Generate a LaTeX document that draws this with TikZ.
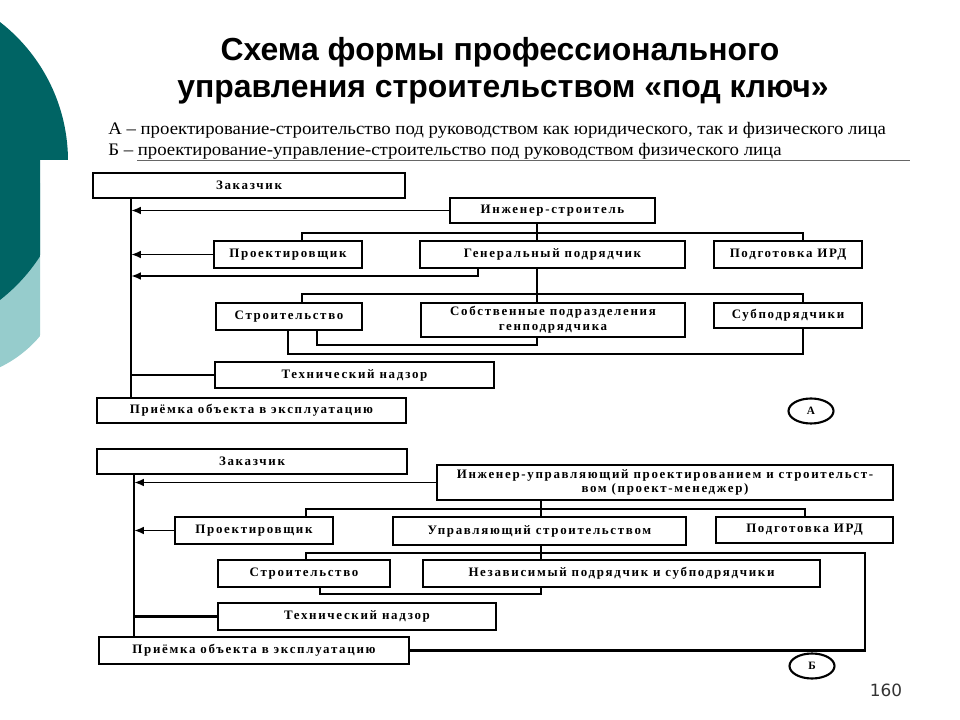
\documentclass[tikz,border=0pt]{standalone}
\usepackage{fontspec}
\setmainfont{Liberation Serif}
\newfontfamily\titlefont{Liberation Sans}
\newfontfamily\capfont[FakeStretch=1.07]{Liberation Serif}
\newfontfamily\boxfont[LetterSpace=13]{Liberation Serif}
\newfontfamily\numfont{DejaVu Sans}
\usetikzlibrary{arrows.meta, positioning, shapes.geometric}
\definecolor{darkteal}{RGB}{0,100,100}
\definecolor{lightteal}{RGB}{150,204,204}

\begin{document}
\begin{tikzpicture}[
    x=0.025cm, y=-0.025cm,
    blk/.style 2 args={draw, line width=1.8pt, inner sep=0pt, align=center,
        minimum width=#1*0.025cm, minimum height=#2*0.025cm,
        font=\boxfont\bfseries\fontsize{9.2}{10.5}\selectfont},
    lettercirc/.style={draw, ellipse, line width=1.5pt, inner sep=0pt,
        minimum width=45*0.025cm, minimum height=25*0.025cm,
        font=\boxfont\bfseries\fontsize{8}{10}\selectfont},
    link/.style={line width=1.6pt},
    arr/.style={line width=1.4pt, -{Latex[length=7pt,width=5.5pt]}}
]
    \useasboundingbox (0,0) rectangle (960,720);
    \fill[white] (0,0) rectangle (960,720);

    % Decoration
    \begin{scope}
        \clip (0,0) -- (960,0) -- (960,160) -- (40,160) -- (40,720) -- (0,720) -- cycle;
        \fill[lightteal] (-52,259) circle[radius=120];
        \fill[darkteal] (-108,161) circle[radius=176];
    \end{scope}

    % Heading
    \node[font=\titlefont\bfseries\fontsize{22.7}{26}\selectfont] (title1) at (500,52) {Схема формы профессионального};
    \node[font=\titlefont\bfseries\fontsize{22.7}{26}\selectfont] (title2) at (503,92) {управления строительством «под ключ»};
    \node[anchor=base west, inner sep=0pt, font=\capfont\fontsize{12.5}{14}\selectfont] (capA) at (108,135)
        {А – проектирование-строительство под руководством как юридического, так и физического лица};
    \node[anchor=base west, inner sep=0pt, font=\capfont\fontsize{12.5}{14}\selectfont] (capB) at (108,156)
        {Б – проектирование-управление-строительство под руководством физического лица};
    \draw[black!60, line width=0.6pt] (137,160) -- (910,160);

    % Boxes A
    \node[blk={312}{25}] (zak_a) at (249,185.5) {Заказчик};
    \node[blk={205}{25}] (ing_a) at (552.5,210.5) {Инженер-строитель};
    \node[blk={148}{27}] (proj_a) at (288,254.5) {Проектировщик};
    \node[blk={265}{27}] (gen_a) at (552.5,254.5) {Генеральный подрядчик};
    \node[blk={148}{27}] (ird_a) at (788,254.5) {Подготовка ИРД};
    \node[blk={146}{27}] (str_a) at (289,316.5) {Строительство};
    \node[blk={264}{34}] (sob_a) at (553,320) {Собственные подразделения\\генподрядчика};
    \node[blk={148}{25}] (sub_a) at (788,315.5) {Субподрядчики};
    \node[blk={279}{26}] (tn_a) at (354.5,375) {Технический надзор};
    \node[blk={309}{25}] (pr_a) at (251.5,410.5) {Приёмка объекта в эксплуатацию};
    \node[lettercirc] (let_a) at (811,411) {А};

    % Connectors A
    \coordinate (sp_a) at (131,0);
    \coordinate (mid_a) at (537,0);
    \coordinate (gl_a) at (478,276);
    \coordinate (bl1_a) at (302,233);
    \coordinate (br1_a) at (803,233);
    \coordinate (bl2_a) at (302,294);
    \coordinate (br2_a) at (803,294);
    \coordinate (lo1_a) at (288,354);
    \coordinate (lo2_a) at (317,345);
    \draw[link] (zak_a.south -| sp_a) -- (pr_a.north -| sp_a);
    \draw[arr] (ing_a.west) -- (ing_a.west -| sp_a);
    \draw[arr] (proj_a.west) -- (proj_a.west -| sp_a);
    \draw[arr] (gen_a.south -| gl_a) -- (gl_a) -- (gl_a -| sp_a);
    \draw[link] (ing_a.south -| mid_a) -- (gen_a.north -| mid_a);
    \draw[link] (bl1_a |- proj_a.north) -- (bl1_a) -- (br1_a) -- (br1_a |- ird_a.north);
    \draw[link] (gen_a.south -| mid_a) -- (sob_a.north -| mid_a);
    \draw[link] (bl2_a |- str_a.north) -- (bl2_a) -- (br2_a) -- (br2_a |- sub_a.north);
    \draw[link] (str_a.south -| lo1_a) -- (lo1_a) -- (lo1_a -| br2_a) -- (sub_a.south -| br2_a);
    \draw[link] (str_a.south -| lo2_a) -- (lo2_a) -- (lo2_a -| mid_a) -- (sob_a.south -| mid_a);
    \draw[link] (tn_a.west) -- (tn_a.west -| sp_a);

    % Boxes B
    \node[blk={310}{25}] (zak_b) at (252,461.5) {Заказчик};
    \node[blk={456}{35}] (ing_b) at (665,482.5) {Инженер-управляющий проектированием и строительст-\\вом (проект-менеджер)};
    \node[blk={158}{27}] (proj_b) at (254,530.5) {Проектировщик};
    \node[blk={293}{28}] (upr_b) at (539.5,531) {Управляющий строительством};
    \node[blk={177}{26}] (ird_b) at (804.5,530) {Подготовка ИРД};
    \node[blk={172}{27}] (str_b) at (304,573.5) {Строительство};
    \node[blk={397}{27}] (nez_b) at (621.5,573.5) {Независимый подрядчик и субподрядчики};
    \node[blk={278}{27}] (tn_b) at (357,616.5) {Технический надзор};
    \node[blk={310}{27}] (pr_b) at (254,650.5) {Приёмка объекта в эксплуатацию};
    \node[lettercirc] (let_b) at (812,666) {Б};

    % Connectors B
    \coordinate (sp_b) at (134,0);
    \coordinate (mid_b) at (541,0);
    \coordinate (bl1_b) at (306,509);
    \coordinate (br1_b) at (805,509);
    \coordinate (bl2_b) at (306,553);
    \coordinate (br2_b) at (865,553);
    \coordinate (lo_b) at (320,594);
    \draw[link] (zak_b.south -| sp_b) -- (pr_b.north -| sp_b);
    \draw[arr] (ing_b.west) -- (ing_b.west -| sp_b);
    \draw[arr] (proj_b.west) -- (proj_b.west -| sp_b);
    \draw[link] (ing_b.south -| mid_b) -- (upr_b.north -| mid_b);
    \draw[link] (bl1_b |- proj_b.north) -- (bl1_b) -- (br1_b) -- (br1_b |- ird_b.north);
    \draw[link] (upr_b.south -| mid_b) -- (nez_b.north -| mid_b);
    \draw[link] (bl2_b |- str_b.north) -- (bl2_b) -- (br2_b) -- (br2_b |- pr_b.east) -- (pr_b.east);
    \draw[link] (str_b.south -| lo_b) -- (lo_b) -- (lo_b -| mid_b) -- (nez_b.south -| mid_b);
    \draw[link] (tn_b.west) -- (tn_b.west -| sp_b);

    \node[font=\numfont\fontsize{12}{14}\selectfont, text=black!80] (pnum) at (886,690) {160};
\end{tikzpicture}
\end{document}
